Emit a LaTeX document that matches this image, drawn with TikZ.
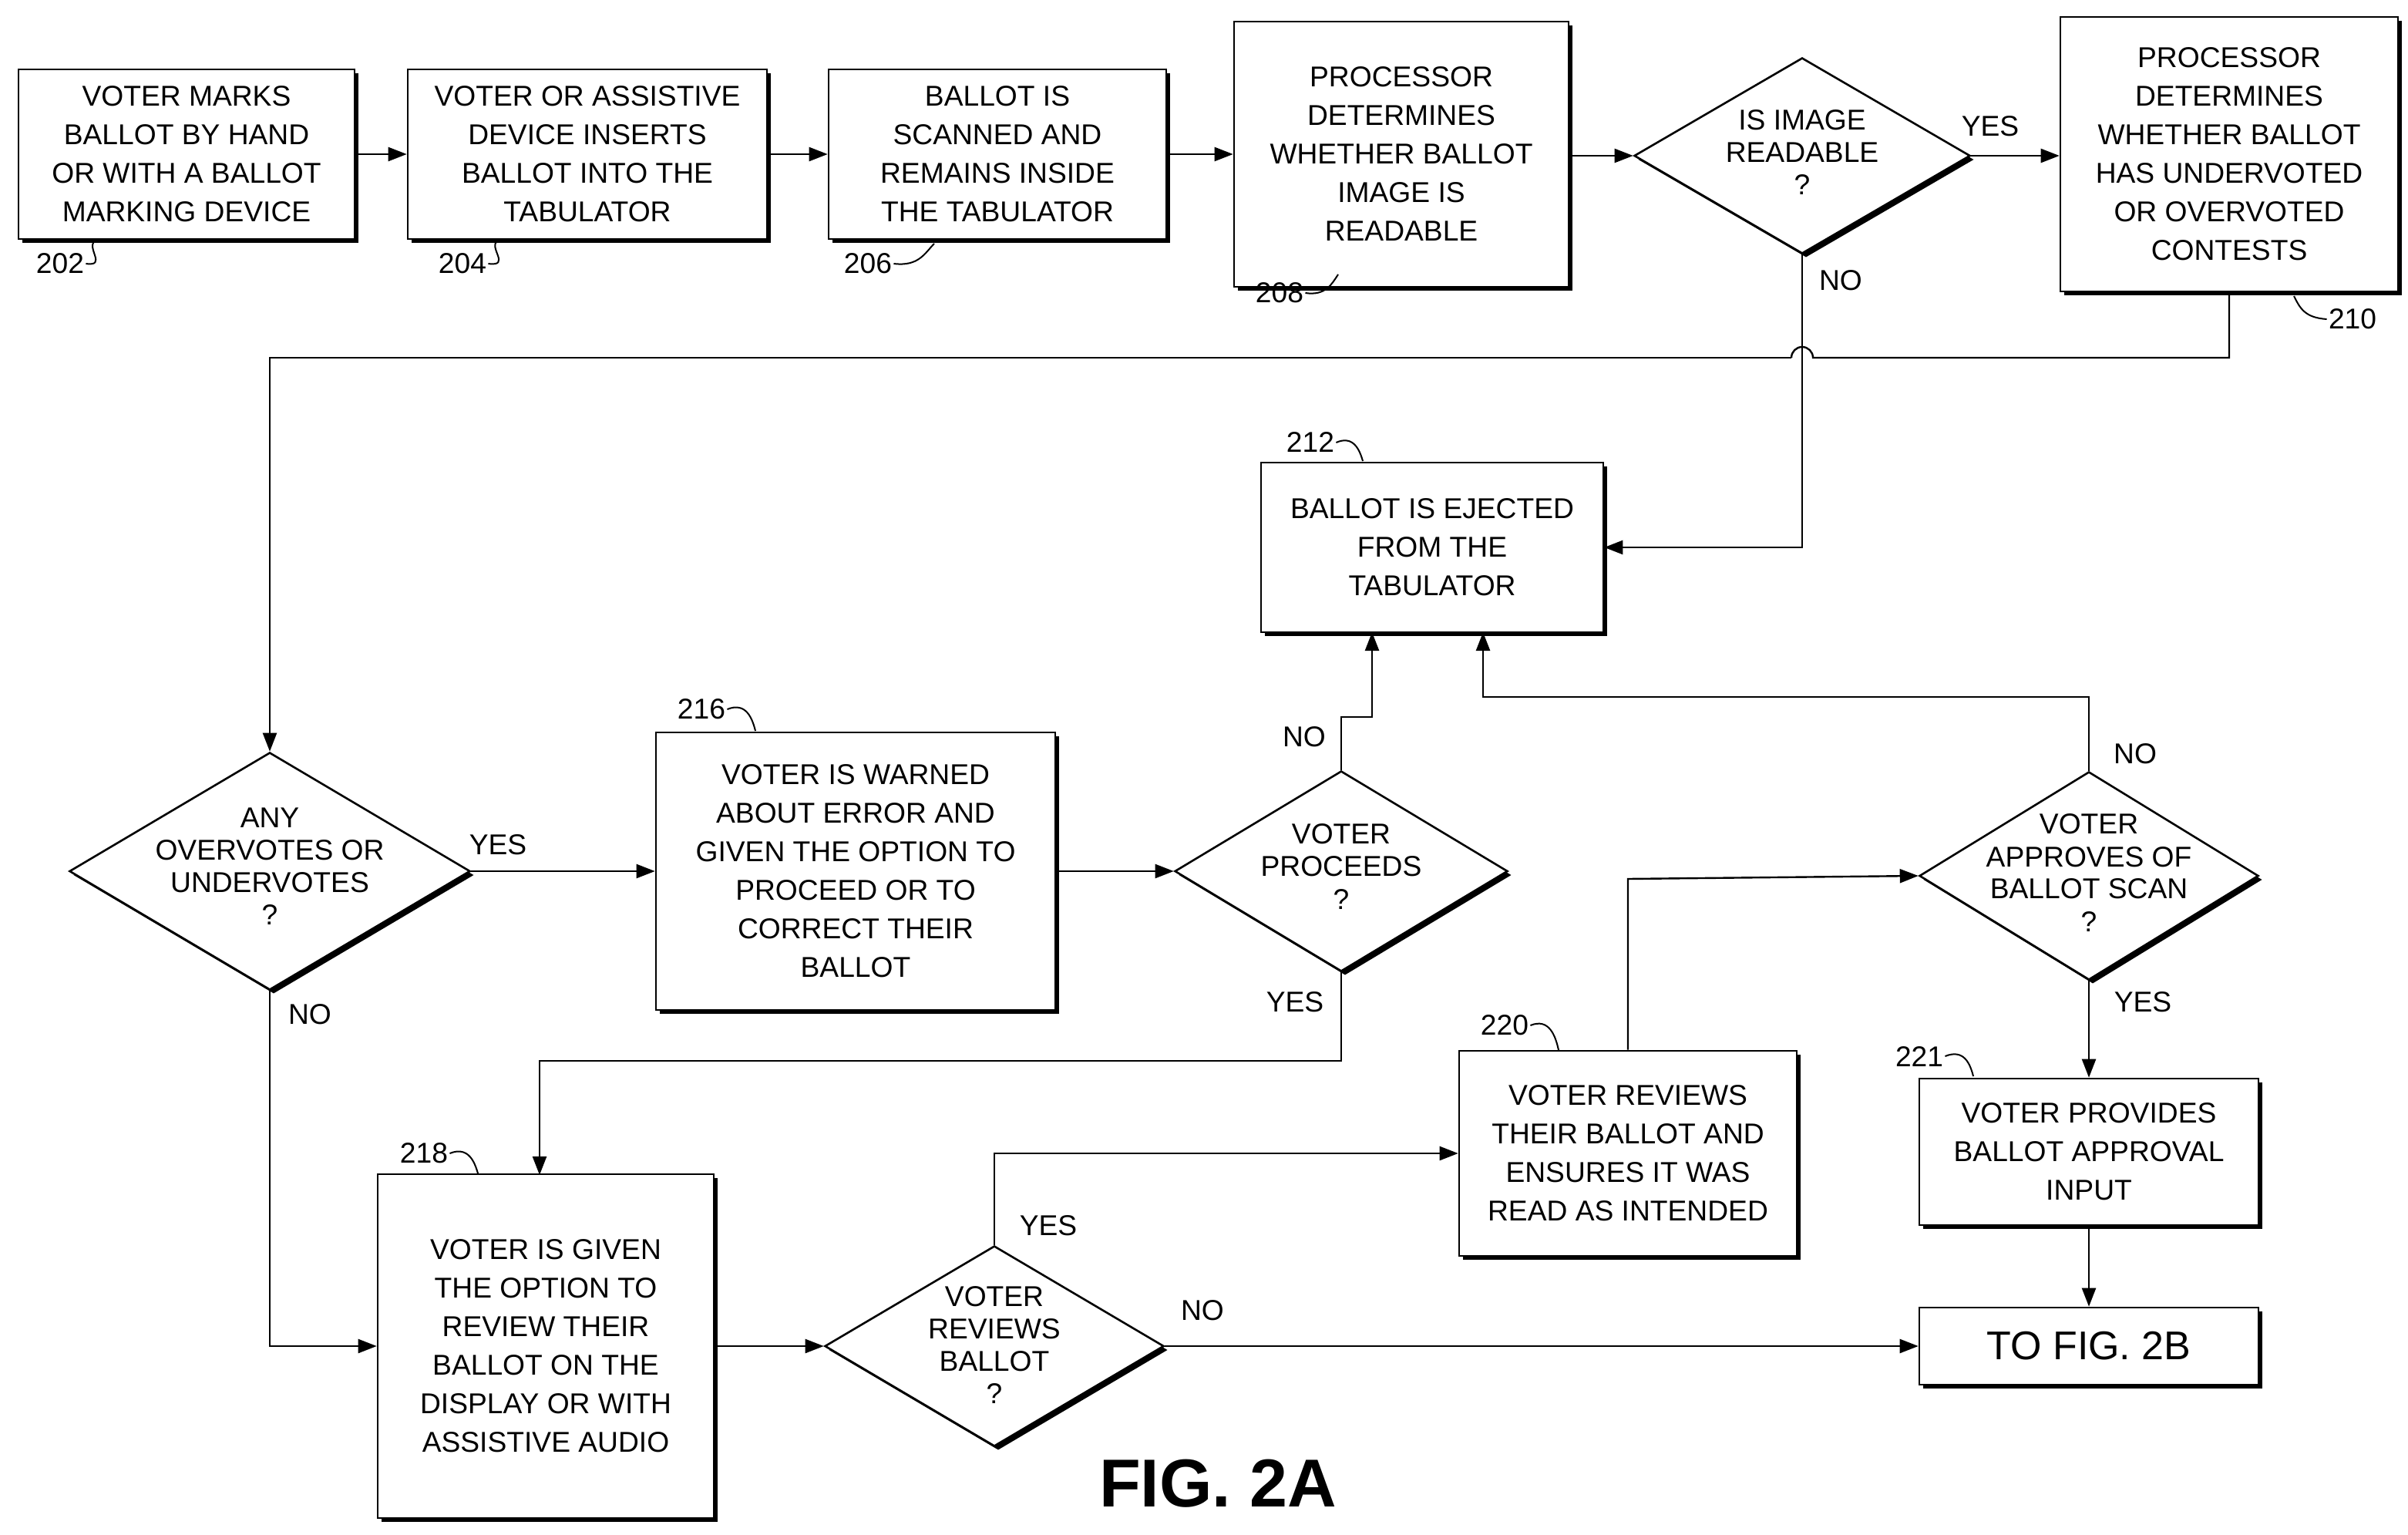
\documentclass[tikz,border=0pt]{standalone}
\usepackage{fontspec}
\setmainfont{Liberation Sans}
\usetikzlibrary{shapes.geometric,arrows.meta,shadows}
\begin{document}
\begin{tikzpicture}[x=1pt,y=-1pt,
  font=\fontsize{18.6}{25}\selectfont,
  box/.style={draw,line width=1.3pt,fill=white,align=center,inner sep=2pt,
    drop shadow={shadow xshift=2.5pt,shadow yshift=-2.5pt,fill=black,opacity=1}},
  dia/.style={draw,diamond,line width=1.3pt,fill=white,inner sep=0pt,
    drop shadow={shadow xshift=2.5pt,shadow yshift=-2.5pt,fill=black,opacity=1}},
  txt/.style={align=center,inner sep=0pt,font=\fontsize{18.6}{21}\selectfont},
  ar/.style={line width=1.2pt,-{Triangle[length=12pt,width=9pt]}},
  ln/.style={line width=1.2pt},
  lab/.style={inner sep=1pt},
  sq/.style={line width=1pt}]
\useasboundingbox (0,0) rectangle (1562,995);
\node[box,minimum width=218pt,minimum height=110pt] (b202) at (121,100) {VOTER MARKS\\BALLOT BY HAND\\OR WITH A BALLOT\\MARKING DEVICE};
\node[box,minimum width=233pt,minimum height=110pt] (b204) at (381,100) {VOTER OR ASSISTIVE\\DEVICE INSERTS\\BALLOT INTO THE\\TABULATOR};
\node[box,minimum width=219pt,minimum height=110pt] (b206) at (647,100) {BALLOT IS\\SCANNED AND\\REMAINS INSIDE\\THE TABULATOR};
\node[box,minimum width=217pt,minimum height=172pt] (b208) at (909,100) {PROCESSOR\\DETERMINES\\WHETHER BALLOT\\IMAGE IS\\READABLE};
\node[dia,minimum width=218pt,minimum height=127pt] (d1) at (1169,101) {};
\node[txt] at (1169,99) {IS IMAGE\\READABLE\\?};
\node[box,minimum width=219pt,minimum height=178pt] (b210) at (1446,100) {PROCESSOR\\DETERMINES\\WHETHER BALLOT\\HAS UNDERVOTED\\OR OVERVOTED\\CONTESTS};
\node[box,minimum width=222pt,minimum height=110pt] (b212) at (929,355) {BALLOT IS EJECTED\\FROM THE\\TABULATOR};
\node[dia,minimum width=260pt,minimum height=154pt] (d2) at (175,565) {};
\node[txt] at (175,562) {ANY\\OVERVOTES OR\\UNDERVOTES\\?};
\node[box,minimum width=259pt,minimum height=180pt] (b216) at (555,565) {VOTER IS WARNED\\ABOUT ERROR AND\\GIVEN THE OPTION TO\\PROCEED OR TO\\CORRECT THEIR\\BALLOT};
\node[dia,minimum width=216pt,minimum height=130pt] (d3) at (870,565) {};
\node[txt] at (870,562) {VOTER\\PROCEEDS\\?};
\node[dia,minimum width=220pt,minimum height=135pt] (d4) at (1355,568) {};
\node[txt] at (1355,566) {VOTER\\APPROVES OF\\BALLOT SCAN\\?};
\node[box,minimum width=219pt,minimum height=133pt] (b220) at (1056,748) {VOTER REVIEWS\\THEIR BALLOT AND\\ENSURES IT WAS\\READ AS INTENDED};
\node[box,minimum width=220pt,minimum height=95pt] (b221) at (1355,747) {VOTER PROVIDES\\BALLOT APPROVAL\\INPUT};
\node[box,minimum width=218pt,minimum height=223pt] (b218) at (354,873) {VOTER IS GIVEN\\THE OPTION TO\\REVIEW THEIR\\BALLOT ON THE\\DISPLAY OR WITH\\ASSISTIVE AUDIO};
\node[dia,minimum width=220pt,minimum height=130pt] (d5) at (645,873) {};
\node[txt] at (645,872) {VOTER\\REVIEWS\\BALLOT\\?};
\node[box,minimum width=220pt,minimum height=50pt,font=\fontsize{26}{30}\selectfont] (b2b) at (1355,873) {TO FIG. 2B};
\node[font=\bfseries\fontsize{44}{50}\selectfont] (fig) at (790,962) {FIG. 2A};

% connectors
\draw[ar] (b202) -- (b204);
\draw[ar] (b204) -- (b206);
\draw[ar] (b206) -- (b208);
\draw[ar] (b208.east |- d1) -- (d1.west);
\draw[ar] (d1.east) -- (b210.west |- d1);
\node[lab] at (1291,82) {YES};
\draw[ar] (d1.south) -- (1169,355) -- (b212.east |- 0,355);
\node[lab] at (1194,182) {NO};
\draw[ln] (b210.south) -- (1446,232) -- (1176,232) arc[start angle=0,end angle=-180,radius=7] coordinate (hp);
\draw[ar] (hp) -- (175,232) -- (d2.north);
\draw[ar] (d2.east) -- (b216.west);
\node[lab] at (323,548) {YES};
\draw[ar] (b216.east) -- (d3.west);
\draw[ar] (d3.north) -- (870,465) -- (890,465) -- (890,410);
\node[lab] at (846,478) {NO};
\draw[ar] (d3.south) -- (870,688) -- (350,688) -- (350,762);
\node[lab] at (840,650) {YES};
\draw[ar] (d2.south) -- (175,873) -- (b218.west);
\node[lab] at (201,658) {NO};
\draw[ar] (b218.east) -- (d5.west);
\draw[ar] (d5.north) -- (645,748) -- (b220.west);
\node[lab] at (680,795) {YES};
\draw[ar] (d5.east) -- (b2b.west);
\node[lab] at (780,850) {NO};
\draw[ar] (b220.north) -- (1056,570) -- (d4.west);
\draw[ar] (d4.north) -- (1355,452) -- (962,452) -- (962,410);
\node[lab] at (1385,489) {NO};
\draw[ar] (d4.south) -- (b221.north);
\node[lab] at (1390,650) {YES};
\draw[ar] (b221.south) -- (b2b.north);

% reference numerals
\node[lab] (n202) at (39,171) {202};
\draw[sq] (n202.east) .. controls (70,173) and (55,160) .. (62,156);
\node[lab] (n204) at (300,171) {204};
\draw[sq] (n204.east) .. controls (332,173) and (316,160) .. (323,156);
\node[lab] (n206) at (563,171) {206};
\draw[sq] (n206.east) .. controls (596,173) and (600,164) .. (606,158);
\node[lab] (n208) at (830,190) {208};
\draw[sq] (n208.east) .. controls (860,192) and (864,184) .. (868,178);
\node[lab] (n210) at (1526,207) {210};
\draw[sq] (n210.west) .. controls (1495,206) and (1492,200) .. (1488,192);
\node[lab] (n212) at (850,287) {212};
\draw[sq] (n212.east) .. controls (878,282) and (882,292) .. (884,299);
\node[lab] (n216) at (455,460) {216};
\draw[sq] (n216.east) .. controls (484,455) and (488,466) .. (490,474);
\node[lab] (n218) at (275,748) {218};
\draw[sq] (n218.east) .. controls (304,743) and (308,754) .. (310,761);
\node[lab] (n220) at (976,665) {220};
\draw[sq] (n220.east) .. controls (1005,660) and (1009,672) .. (1011,681);
\node[lab] (n221) at (1245,685) {221};
\draw[sq] (n221.east) .. controls (1274,680) and (1278,690) .. (1280,698);
\end{tikzpicture}
\end{document}
